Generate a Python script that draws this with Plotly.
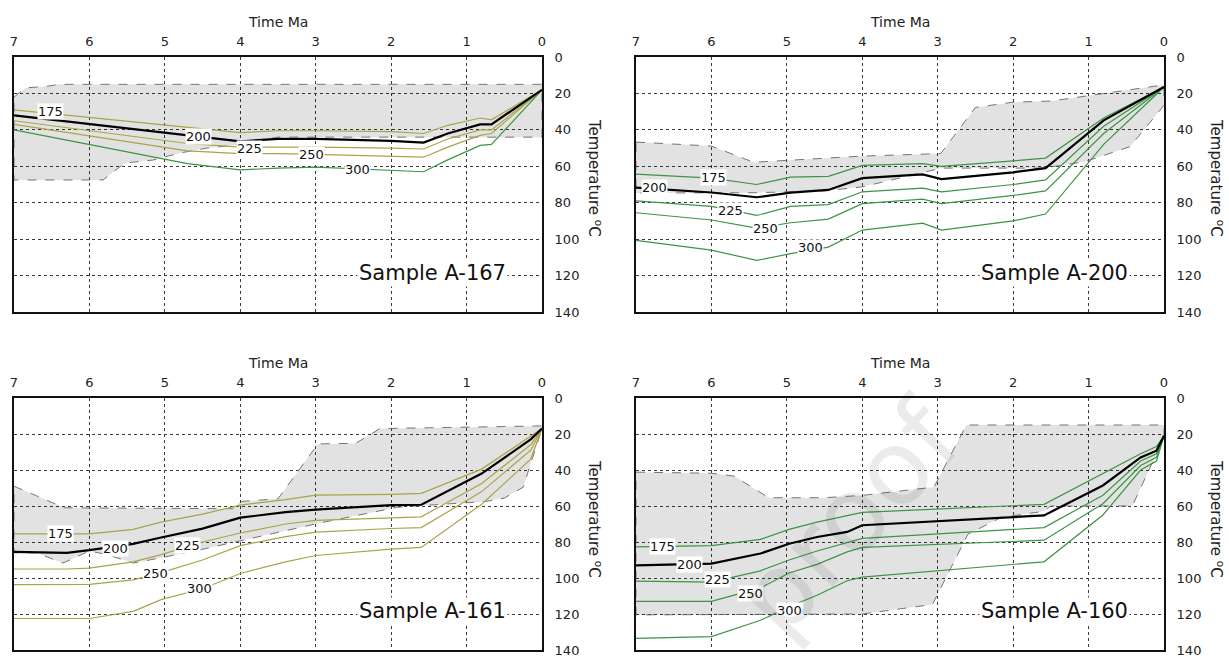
import plotly.graph_objects as go

W, H = 1229, 659
FONT = "DejaVu Sans"

# ---------------- data (Ma, temperature °C) ----------------
# Sample A-167
A167_MA = [7, 4.7, 4.0, 3.5, 3.0, 2.0, 1.57, 1.25, 0.82, 0.67, 0]
A167_T175 = [29, 38.5, 41.5, 40.5, 40.5, 41, 42, 37.5, 33.5, 34.5, 18]
A167_T200 = [32, 43, 46.3, 45, 45, 46, 47, 42, 37, 37, 18]
A167_T225 = [35, 47.5, 49.5, 49.5, 49.5, 50, 50.5, 45, 40, 40, 18]
A167_T250 = [37, 51.5, 53, 53, 53.5, 54.5, 55, 49.5, 43, 42, 18]
A167_T300 = [40, 58.5, 62, 61, 60.5, 62, 63, 56.5, 48.5, 48, 18]
A167_ENV_MA = [7, 6.85, 6.55, 6.4, 0, 0, 3.5, 4.1, 4.44, 4.8, 5.16, 5.53, 5.82, 7]
A167_ENV_T = [22, 17, 16, 15, 15, 44, 44, 48.5, 50, 52.7, 56.6, 58.2, 67.5, 67.5]

# Sample A-200
A200_MA = [7, 6, 5.4, 4.95, 4.45, 4.0, 3.2, 2.95, 2.0, 1.57, 0.8, 0]
A200_T175 = [64.3, 66.5, 70, 66, 65.5, 59.5, 58.5, 60, 57, 55.5, 33.5, 16.5]
A200_T200 = [71.7, 74.4, 77, 74.5, 73, 66.5, 64.5, 67, 63.3, 61, 34.8, 16.5]
A200_T225 = [79, 82, 87, 82, 81, 74, 72, 74, 70, 67.5, 38, 16.5]
A200_T250 = [85.5, 89.5, 94, 91, 89, 80.5, 78, 80.5, 76, 73.5, 42, 16.5]
A200_T300 = [100.7, 106, 111.7, 108, 104.4, 95, 91.2, 95, 90, 86.2, 48, 16.5]
A200_ENV_MA = [7, 6, 5.44, 4, 2.96, 2.5, 2, 1.5, 0, 0, 0.45, 1.05, 1.6, 2.95, 4, 4.5, 5.4, 7]
A200_ENV_T = [46.7, 48.9, 57.8, 54.4, 53, 27.7, 24.8, 24.2, 15.3, 26.5, 49.2, 57.5, 61, 61, 71.3, 73.5, 74.5, 74.7]

# Sample A-161
A161_MA = [7, 6.3, 6, 5.42, 5.05, 4.5, 4.0, 3.4, 3.0, 2.0, 1.6, 0.8, 0.15, 0]
A161_T175 = [75.5, 75.5, 75.5, 73, 69, 64.5, 59.5, 56.5, 54, 53.5, 53, 39.5, 21, 17]
A161_T200 = [85.5, 86, 84.5, 81, 77.5, 72.6, 66.5, 63.4, 62, 59.5, 59.3, 42, 23, 17]
A161_T225 = [95, 95, 94.5, 91, 87, 80, 75, 70, 68, 66.5, 66, 47.5, 26, 17]
A161_T250 = [103.7, 103.7, 103.5, 101, 97, 90, 82, 77, 74.5, 72.5, 72, 52, 29, 17]
A161_T300 = [122.5, 122.5, 122.5, 118.5, 112, 106, 97.5, 91, 87.5, 84, 83, 59, 34, 17]
A161_ENV_MA = [7, 6.33, 4.1, 4, 3.5, 2.97, 2.47, 2.15, 0, 0, 0.25, 0.5, 0.75, 1.92, 2.94, 4, 4.53, 5.08, 5.42, 5.77, 6.0, 6.35, 6.7, 7]
A161_ENV_T = [49, 61, 61.5, 57.5, 56, 25.5, 25.2, 17, 15.5, 17, 49.6, 55.6, 57.5, 60.7, 69.4, 79.6, 84.3, 89, 91.7, 87, 85, 91.7, 86, 86]

# Sample A-160
A160_MA = [7, 6, 5.35, 4.97, 4.6, 4.2, 4.0, 1.59, 0.81, 0.31, 0.1, 0]
A160_T175 = [82.7, 82, 78.5, 73, 69, 65.5, 63.5, 59.1, 42, 31, 27, 21]
A160_T200 = [93, 92, 86.4, 81, 77.2, 74.4, 70.7, 65.2, 48.6, 33, 29.3, 21]
A160_T225 = [101.7, 102.3, 96, 90, 85, 80.5, 78, 72, 54, 35, 31, 21]
A160_T250 = [113, 113, 105.5, 97.2, 92.4, 85.5, 83, 79, 58.7, 37.5, 33, 21]
A160_T300 = [133.5, 132.6, 123.5, 116, 109.6, 101.5, 99.5, 91, 65, 40, 35, 21]
A160_ENV_MA = [7, 6, 5.7, 5.24, 4.5, 4, 3.05, 2.62, 0, 0, 0.42, 1.5, 1.6, 2.16, 2.6, 3.07, 4, 7]
A160_ENV_T = [41.2, 41.8, 43.4, 55.4, 55.4, 54.1, 49.5, 15, 15, 21.8, 60, 60, 63, 66.4, 75.7, 114.7, 120, 120.5]

# contour label positions (Ma, T) for 175, 200, 225, 250, 300
LABELS = ["175", "200", "225", "250", "300"]
A167_LAB_MA = [6.51, 4.56, 3.88, 3.05, 2.45]
A167_LAB_T = [29.8, 43.5, 50.5, 53.8, 61.5]
A200_LAB_MA = [5.97, 6.76, 5.75, 5.28, 4.69]
A200_LAB_T = [66.2, 71.8, 84.2, 94.0, 104.8]
A161_LAB_MA = [6.39, 5.66, 4.70, 5.12, 4.54]
A161_LAB_T = [75.4, 83.5, 82.0, 97.4, 105.6]
A160_LAB_MA = [6.65, 6.29, 5.92, 5.48, 4.96]
A160_LAB_T = [82.5, 92.5, 101.0, 108.8, 117.8]

SAMPLES = ["Sample A-167", "Sample A-200", "Sample A-161", "Sample A-160"]
MA_TICKS = [0, 1, 2, 3, 4, 5, 6, 7]
T_TICKS = [0, 20, 40, 60, 80, 100, 120, 140]

OLIVE = "#aaa448"
GREEN = "#3e9442"

panels = [
    dict(ma=A167_MA, lines=[A167_T175, A167_T200, A167_T225, A167_T250, A167_T300],
         env=(A167_ENV_MA, A167_ENV_T), lab=(A167_LAB_MA, A167_LAB_T),
         colors=[OLIVE, "black", OLIVE, OLIVE, GREEN], px=(14, 542), py=(57, 312)),
    dict(ma=A200_MA, lines=[A200_T175, A200_T200, A200_T225, A200_T250, A200_T300],
         env=(A200_ENV_MA, A200_ENV_T), lab=(A200_LAB_MA, A200_LAB_T),
         colors=[GREEN, "black", GREEN, GREEN, GREEN], px=(636, 1164), py=(57, 312)),
    dict(ma=A161_MA, lines=[A161_T175, A161_T200, A161_T225, A161_T250, A161_T300],
         env=(A161_ENV_MA, A161_ENV_T), lab=(A161_LAB_MA, A161_LAB_T),
         colors=[OLIVE, "black", OLIVE, OLIVE, OLIVE], px=(14, 542), py=(398, 650)),
    dict(ma=A160_MA, lines=[A160_T175, A160_T200, A160_T225, A160_T250, A160_T300],
         env=(A160_ENV_MA, A160_ENV_T), lab=(A160_LAB_MA, A160_LAB_T),
         colors=[GREEN, "black", GREEN, GREEN, GREEN], px=(636, 1164), py=(398, 650)),
]

fig = go.Figure()
annotations = []
layout_axes = {}

for i, p in enumerate(panels):
    n = "" if i == 0 else str(i + 1)
    xa, ya = "x" + n, "y" + n
    # envelope
    ex, et = p["env"]
    fig.add_trace(go.Scatter(x=ex + [ex[0]], y=et + [et[0]], xaxis=xa, yaxis=ya, mode="lines",
                             fill="toself", fillcolor="rgba(0,0,0,0.115)",
                             line=dict(color="#666666", width=0.9, dash="dash"),
                             hoverinfo="skip", showlegend=False))
    # lines (black last so it stays on top)
    for k in [0, 2, 3, 4, 1]:
        col = p["colors"][k]
        fig.add_trace(go.Scatter(x=p["ma"], y=p["lines"][k], xaxis=xa, yaxis=ya, mode="lines",
                                 line=dict(color=col, width=2.2 if col == "black" else 1.2),
                                 showlegend=False, name=LABELS[k]))
    # contour labels
    lm, lt = p["lab"]
    for k in range(5):
        annotations.append(dict(x=lm[k], y=lt[k], xref=xa, yref=ya, text=LABELS[k], showarrow=False,
                                xanchor="center", yanchor="middle",
                                font=dict(family=FONT, size=13, color="#111"), bgcolor="white",
                                borderpad=0))
    annotations.append(dict(x=1.45, y=118.5, xref=xa, yref=ya, text=SAMPLES[i], showarrow=False,
                            xanchor="center", yanchor="middle",
                            font=dict(family=FONT, size=21, color="#111"), bgcolor="white",
                            borderpad=1))
    x0, x1 = p["px"]
    y0, y1 = p["py"]
    dom_x = [x0 / W, x1 / W]
    dom_y = [1 - y1 / H, 1 - y0 / H]
    common = dict(showgrid=True, gridcolor="#3a3a3a", griddash="dot", gridwidth=1,
                  showline=True, linecolor="#111", linewidth=2, mirror=True, ticks="",
                  zeroline=False, tickfont=dict(family=FONT, size=13, color="#222"),
                  fixedrange=True, automargin=False)
    layout_axes["xaxis" + n] = dict(domain=dom_x, anchor=ya, side="top", range=[7, 0],
                                    tickvals=MA_TICKS, ticklabelstandoff=4, **common)
    layout_axes["yaxis" + n] = dict(domain=dom_y, anchor=xa, side="right", range=[140, 0],
                                    tickvals=T_TICKS, ticklabelstandoff=8, **common)
    # axis titles
    annotations.append(dict(x=(x0 + x1) / 2 / W, y=1 - (y0 - 35) / H, xref="paper", yref="paper",
                            xanchor="center", yanchor="middle",
                            text="Time Ma", showarrow=False,
                            font=dict(family=FONT, size=14, color="#222")))
    annotations.append(dict(x=(x1 + 53) / W, y=1 - (y0 + 121) / H, xref="paper", yref="paper",
                            xanchor="center", yanchor="middle",
                            text="Temperature <sup>o</sup>C", textangle=90, showarrow=False,
                            font=dict(family=FONT, size=15, color="#222")))

# faint watermark
annotations.append(dict(x=848 / W, y=1 - 518 / H, xref="paper", yref="paper", text="proof",
                        xanchor="center", yanchor="middle",
                        textangle=-47, showarrow=False,
                        font=dict(family=FONT, size=104, color="rgba(0,0,0,0.08)")))

fig.update_layout(width=W, height=H, margin=dict(l=0, r=0, t=0, b=0, autoexpand=False),
                  paper_bgcolor="white", plot_bgcolor="white", showlegend=False,
                  annotations=annotations, **layout_axes)

fig.write_html("out.html", config={"displayModeBar": False},
               post_script="document.body.style.margin='0';document.body.style.overflow='hidden';"
                           "document.documentElement.style.overflow='hidden';")
